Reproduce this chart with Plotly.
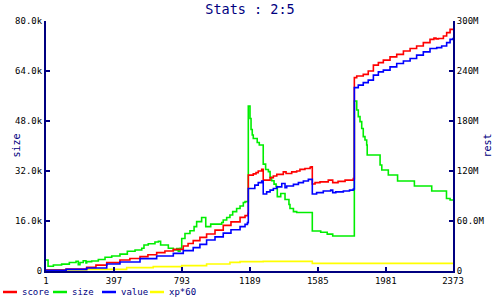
import plotly.graph_objects as go

# ---------------- data ----------------
size_x = [1, 13, 44, 92, 137, 176, 189, 199, 218, 234, 238, 267, 306, 345, 384, 432, 475, 520, 559, 572,
          597, 636, 656, 669, 714, 743, 763, 772, 782, 792, 811, 840, 864, 879, 908, 932, 961, 1025, 1034,
          1054, 1073, 1089, 1112, 1132, 1151, 1161, 1180, 1190, 1196, 1203, 1209, 1232, 1244, 1267, 1281,
          1297, 1307, 1316, 1330, 1342, 1349, 1369, 1394, 1417, 1423, 1443, 1462, 1553, 1602, 1640, 1672,
          1798, 1812, 1821, 1831, 1841, 1850, 1860, 1870, 1873, 1948, 1958, 1996, 2050, 2148, 2249, 2335,
          2356, 2373]
size_k = [3.5, 1.5, 1.9, 2.2, 2.7, 3.1, 2.0, 2.7, 3.3, 2.6, 3.0, 3.2, 3.7, 4.4, 4.8, 5.4, 6.3, 6.7, 7.3, 8.3,
          8.7, 9.3, 9.5, 8.3, 7.3, 6.7, 7.2, 6.3, 7.3, 10.4, 12.0, 12.9, 14.2, 15.8, 17.1, 14.2, 15.0, 15.5, 16.3,
          17.1, 17.9, 19.0, 20.0, 20.8, 21.9, 22.2, 52.8, 48.8, 45.3, 43.5, 42.4, 41.1, 40.3, 34.2, 32.5,
          31.8, 30.0, 28.9, 27.8, 27.0, 23.8, 24.8, 22.9, 21.3, 20.0, 19.0, 18.7, 12.8, 12.4, 11.8, 11.2,
          54.4, 51.5, 49.4, 47.8, 45.6, 43.0, 41.9, 40.3, 37.1, 33.9, 32.3, 30.7, 28.8, 27.2, 25.6, 23.2,
          22.7, 22.7]

score_x = [1, 118, 238, 292, 355, 432, 490, 549, 595, 646, 694, 743, 801, 829, 859, 898, 937, 986, 1034,
           1079, 1132, 1161, 1178, 1180, 1209, 1225, 1238, 1258, 1267, 1307, 1326, 1346, 1384, 1400, 1433,
           1462, 1481, 1510, 1540, 1546, 1553, 1569, 1598, 1646, 1672, 1703, 1744, 1792, 1798, 1812, 1850,
           1879, 1909, 1938, 1967, 2006, 2045, 2084, 2123, 2161, 2200, 2239, 2262, 2274, 2288, 2317, 2336,
           2356, 2373]
score_m = [1.0, 2.4, 4.4, 7.0, 10.0, 13.2, 15.0, 17.2, 19.5, 22.0, 24.0, 26.0, 30.0, 33.0, 36.4, 40.4, 44.4,
           49.0, 54.8, 59.0, 64.4, 66.5, 69.2, 115.0, 116.5, 118.0, 120.0, 122.0, 109.0, 112.0, 114.0, 116.0,
           119.0, 117.0, 119.0, 120.0, 122.0, 123.0, 124.4, 125.0, 104.4, 106.0, 107.0, 109.0, 106.0, 107.5,
           109.0, 110.8, 232.0, 234.0, 236.0, 240.0, 247.0, 250.0, 253.0, 257.0, 260.0, 264.0, 267.0, 270.0,
           274.0, 278.0, 279.5, 278.5, 279.0, 282.0, 286.0, 290.0, 291.0]

value_x = [1, 118, 238, 355, 432, 549, 646, 743, 801, 859, 898, 937, 986, 1034, 1079, 1132, 1161, 1175,
           1180, 1218, 1238, 1258, 1267, 1287, 1307, 1326, 1346, 1375, 1394, 1404, 1443, 1472, 1501, 1530,
           1553, 1578, 1617, 1660, 1672, 1690, 1734, 1770, 1792, 1798, 1821, 1850, 1879, 1909, 1938, 1967,
           2006, 2045, 2084, 2123, 2161, 2200, 2239, 2278, 2307, 2336, 2356, 2373]
value_m = [0.8, 2.0, 3.6, 8.4, 10.8, 14.8, 18.0, 21.2, 24.4, 28.0, 32.0, 37.2, 41.0, 45.4, 49.5, 53.2, 56.0,
           58.0, 99.0, 103.0, 106.0, 108.0, 92.4, 95.0, 97.0, 99.0, 101.0, 105.0, 100.0, 102.0, 104.0, 106.0,
           108.0, 110.0, 92.4, 94.0, 96.0, 97.0, 94.0, 95.0, 96.0, 97.0, 98.4, 220.0, 223.0, 226.0, 229.0,
           235.0, 239.0, 241.0, 245.0, 249.0, 252.0, 255.0, 259.0, 263.0, 267.0, 268.0, 270.0, 274.0, 278.0,
           280.0]

xp_x = [1, 238, 471, 626, 792, 937, 1073, 1132, 1267, 1553, 2373]
xp_m = [1.2, 2.0, 4.0, 5.2, 6.4, 8.4, 10.4, 11.2, 11.6, 9.2, 9.2]

x_ticks = [1, 397, 793, 1189, 1585, 1981, 2373]
left_ticks = [0, 16000, 32000, 48000, 64000, 80000]
left_labels = ["0", "16.0k", "32.0k", "48.0k", "64.0k", "80.0k"]
right_ticks = [0, 60e6, 120e6, 180e6, 240e6, 300e6]
right_labels = ["0", "60.0M", "120M", "180M", "240M", "300M"]

series_names = ["score", "size", "value", "xp*60"]
series_colors = ["#ff0000", "#00ee00", "#0000ff", "#ffff00"]

# ---------------- figure ----------------
NAVY = "#000080"
MONO = "DejaVu Sans Mono"

fig = go.Figure()
fig.add_trace(go.Scatter(x=size_x, y=[v * 1000 for v in size_k], mode="lines", line_shape="hv",
                         line=dict(color=series_colors[1], width=1.6), name="size", yaxis="y"))
fig.add_trace(go.Scatter(x=xp_x, y=[v * 1e6 for v in xp_m], mode="lines", line_shape="hv",
                         line=dict(color=series_colors[3], width=1.6), name="xp*60", yaxis="y2"))
fig.add_trace(go.Scatter(x=score_x, y=[v * 1e6 for v in score_m], mode="lines", line_shape="hv",
                         line=dict(color=series_colors[0], width=1.6), name="score", yaxis="y2"))
fig.add_trace(go.Scatter(x=value_x, y=[v * 1e6 for v in value_m], mode="lines", line_shape="hv",
                         line=dict(color=series_colors[2], width=1.6), name="value", yaxis="y2"))

W, H = 500, 300
L, R, T, B = 46, 47, 21, 29
PW, PH = W - L - R, H - T - B

def px_x(p):
    return (p - L) / PW

def px_y(p):
    return (H - B - p) / PH

axis_common = dict(showline=True, linecolor=NAVY, linewidth=2, ticks="inside", ticklen=4,
                   tickwidth=2, tickcolor=NAVY, showgrid=False, zeroline=False,
                   tickfont=dict(family=MONO, size=9, color="black"))

fig.update_layout(
    width=W, height=H,
    margin=dict(l=L, r=R, t=T, b=B, pad=0),
    paper_bgcolor="white", plot_bgcolor="white",
    showlegend=False,
    title=dict(text="Stats : 2:5", x=0.5, xanchor="center", y=1 - 9 / H, yanchor="middle",
               font=dict(family=MONO, size=13.5, color=NAVY)),
    xaxis=dict(range=[1, 2373], tickvals=x_ticks, ticktext=[str(v) for v in x_ticks], **axis_common),
    yaxis=dict(range=[0, 80000], tickvals=left_ticks, ticktext=left_labels, **axis_common),
    yaxis2=dict(range=[0, 300e6], tickvals=right_ticks, ticktext=right_labels, overlaying="y",
                side="right", **axis_common),
)

# axis titles
fig.add_annotation(text="size", x=px_x(8), y=px_y(146), xref="paper", yref="paper", textangle=-90,
                   showarrow=False, font=dict(family=MONO, size=10, color=NAVY))
fig.add_annotation(text="rest", x=px_x(494), y=px_y(146), xref="paper", yref="paper", textangle=-90,
                   showarrow=False, font=dict(family=MONO, size=10, color=NAVY))

# legend (manual, bottom left)
leg_starts = [3, 53, 102, 150]
for name, col, sx in zip(series_names, series_colors, leg_starts):
    fig.add_shape(type="line", xref="paper", yref="paper", x0=px_x(sx), x1=px_x(sx + 14),
                  y0=px_y(292), y1=px_y(292), line=dict(color=col, width=2.5))
    fig.add_annotation(text=name, x=px_x(sx + 17), y=px_y(292), xref="paper", yref="paper",
                       xanchor="left", yanchor="middle", showarrow=False,
                       font=dict(family=MONO, size=9, color=NAVY))

fig.write_html("out.html")
